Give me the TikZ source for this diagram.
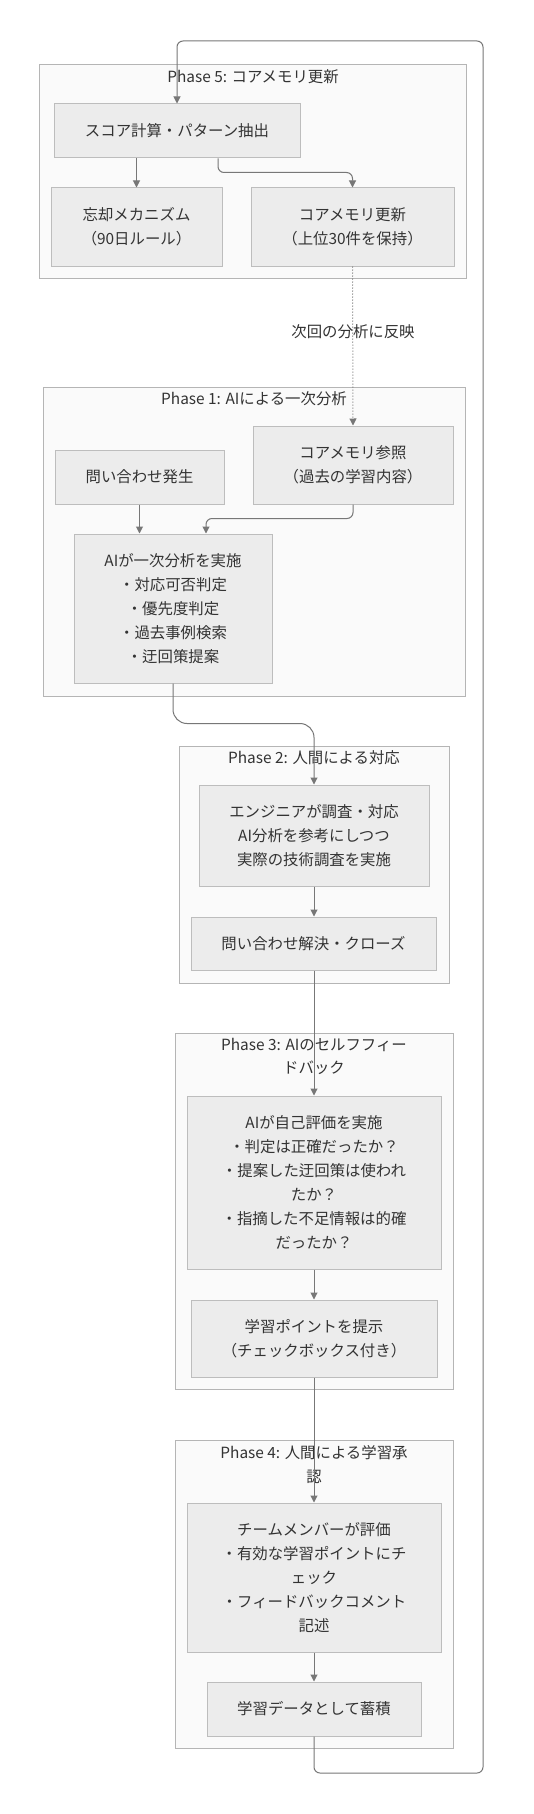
\documentclass[tikz,border=0pt]{standalone}
\usepackage{fontspec}
\setmainfont{Noto Sans CJK JP}
\usetikzlibrary{calc,arrows.meta}
\definecolor{txt}{HTML}{333333}
\definecolor{nodefill}{HTML}{ECECEC}
\definecolor{nodeline}{HTML}{BDBDBD}
\definecolor{clfill}{HTML}{FAFAFA}
\definecolor{clline}{HTML}{B5B5B5}
\definecolor{edge}{HTML}{777777}
\tikzset{
  box/.style={draw=nodeline, fill=nodefill, line width=1pt, inner sep=0pt, align=center,
    text=txt, font=\fontsize{15.4}{24}\selectfont},
  cluster/.style={draw=clline, fill=clfill, line width=1pt},
  ctitle/.style={inner sep=0pt, align=center, text=txt, font=\fontsize{15.4}{23.5}\selectfont},
  flow/.style={draw=edge, line width=1pt, -{Triangle[length=7pt,width=7pt]}, rounded corners=6pt},
}
\begin{document}
\begin{tikzpicture}[x=1pt,y=-1pt]
\useasboundingbox[fill=white] (0,0) rectangle (534,1814);
% clusters
\draw[cluster] (39,65) rectangle (466,278);
\draw[cluster] (43,387) rectangle (465,696);
\draw[cluster] (179,746) rectangle (449,983);
\draw[cluster] (175,1033) rectangle (453,1389);
\draw[cluster] (175,1440) rectangle (453,1748);
\node[ctitle] (t5) at (253,77) {Phase 5: コアメモリ更新};
\node[ctitle] (t1) at (254,399) {Phase 1: AIによる一次分析};
\node[ctitle] (t2) at (314,758) {Phase 2: 人間による対応};
\node[ctitle] (t3) at (314,1056.5) {Phase 3: AIのセルフフィー\\ドバック};
\node[ctitle] (t4) at (314,1464.5) {Phase 4: 人間による学習承\\認};
% nodes
\node[box, minimum width=246pt, minimum height=54pt] (s) at (177,131) {スコア計算・パターン抽出};
\node[box, minimum width=171pt, minimum height=78pt] (f) at (136.5,227) {忘却メカニズム\\（90日ルール）};
\node[box, minimum width=203pt, minimum height=78pt] (cu) at (352.5,227) {コアメモリ更新\\（上位30件を保持）};
\node[box, minimum width=169pt, minimum height=54pt] (q) at (139.5,477) {問い合わせ発生};
\node[box, minimum width=200pt, minimum height=78pt] (cr) at (353,465) {コアメモリ参照\\（過去の学習内容）};
\node[box, minimum width=198pt, minimum height=149pt] (ai) at (173,608.5) {AIが一次分析を実施\\・対応可否判定\\・優先度判定\\・過去事例検索\\・迂回策提案};
\node[box, minimum width=230pt, minimum height=101pt] (eng) at (314,835.5) {エンジニアが調査・対応\\AI分析を参考にしつつ\\実際の技術調査を実施};
\node[box, minimum width=245pt, minimum height=53pt] (res) at (313.5,943.5) {問い合わせ解決・クローズ};
\node[box, minimum width=254pt, minimum height=173pt] (ev) at (314,1182.5) {AIが自己評価を実施\\・判定は正確だったか？\\・提案した迂回策は使われ\\たか？\\・指摘した不足情報は的確\\だったか？};
\node[box, minimum width=246pt, minimum height=77pt] (lp) at (314,1338.5) {学習ポイントを提示\\（チェックボックス付き）};
\node[box, minimum width=254pt, minimum height=149pt] (tm) at (314,1577.5) {チームメンバーが評価\\・有効な学習ポイントにチ\\ェック\\・フィードバックコメント\\記述};
\node[box, minimum width=214pt, minimum height=54pt] (ld) at (314,1709) {学習データとして蓄積};
% edges
\draw[flow] (s.south -| f.north) -- (f.north);
\draw[flow] ([xshift=41pt]s.south) -- ++(0,14) -| (cu.north);
\draw[flow, dotted] (cu.south) -- (cr.north);
\node[ctitle] (lab) at (353,332) {次回の分析に反映};
\draw[flow] (q.south) -- (q.south |- ai.north);
\draw[flow] (cr.south) -- ++(0,14) -| ([xshift=33pt]ai.north);
\draw[flow, rounded corners=14pt] (ai.south) -- ++(0,40) -| (eng.north);
\draw[flow] (eng.south) -- (res.north -| eng.south);
\draw[flow] (res.south -| ev.north) -- (ev.north);
\draw[flow] (ev.south) -- (lp.north);
\draw[flow] (lp.south) -- (tm.north);
\draw[flow] (tm.south) -- (ld.north);
\coordinate (lb) at (483,1773);
\coordinate (lt) at (483,41);
\draw[flow] (ld.south) -- (ld.south |- lb) -- (lb) -- (lt) -- (lt -| s.north) -- (s.north);
\end{tikzpicture}
\end{document}
